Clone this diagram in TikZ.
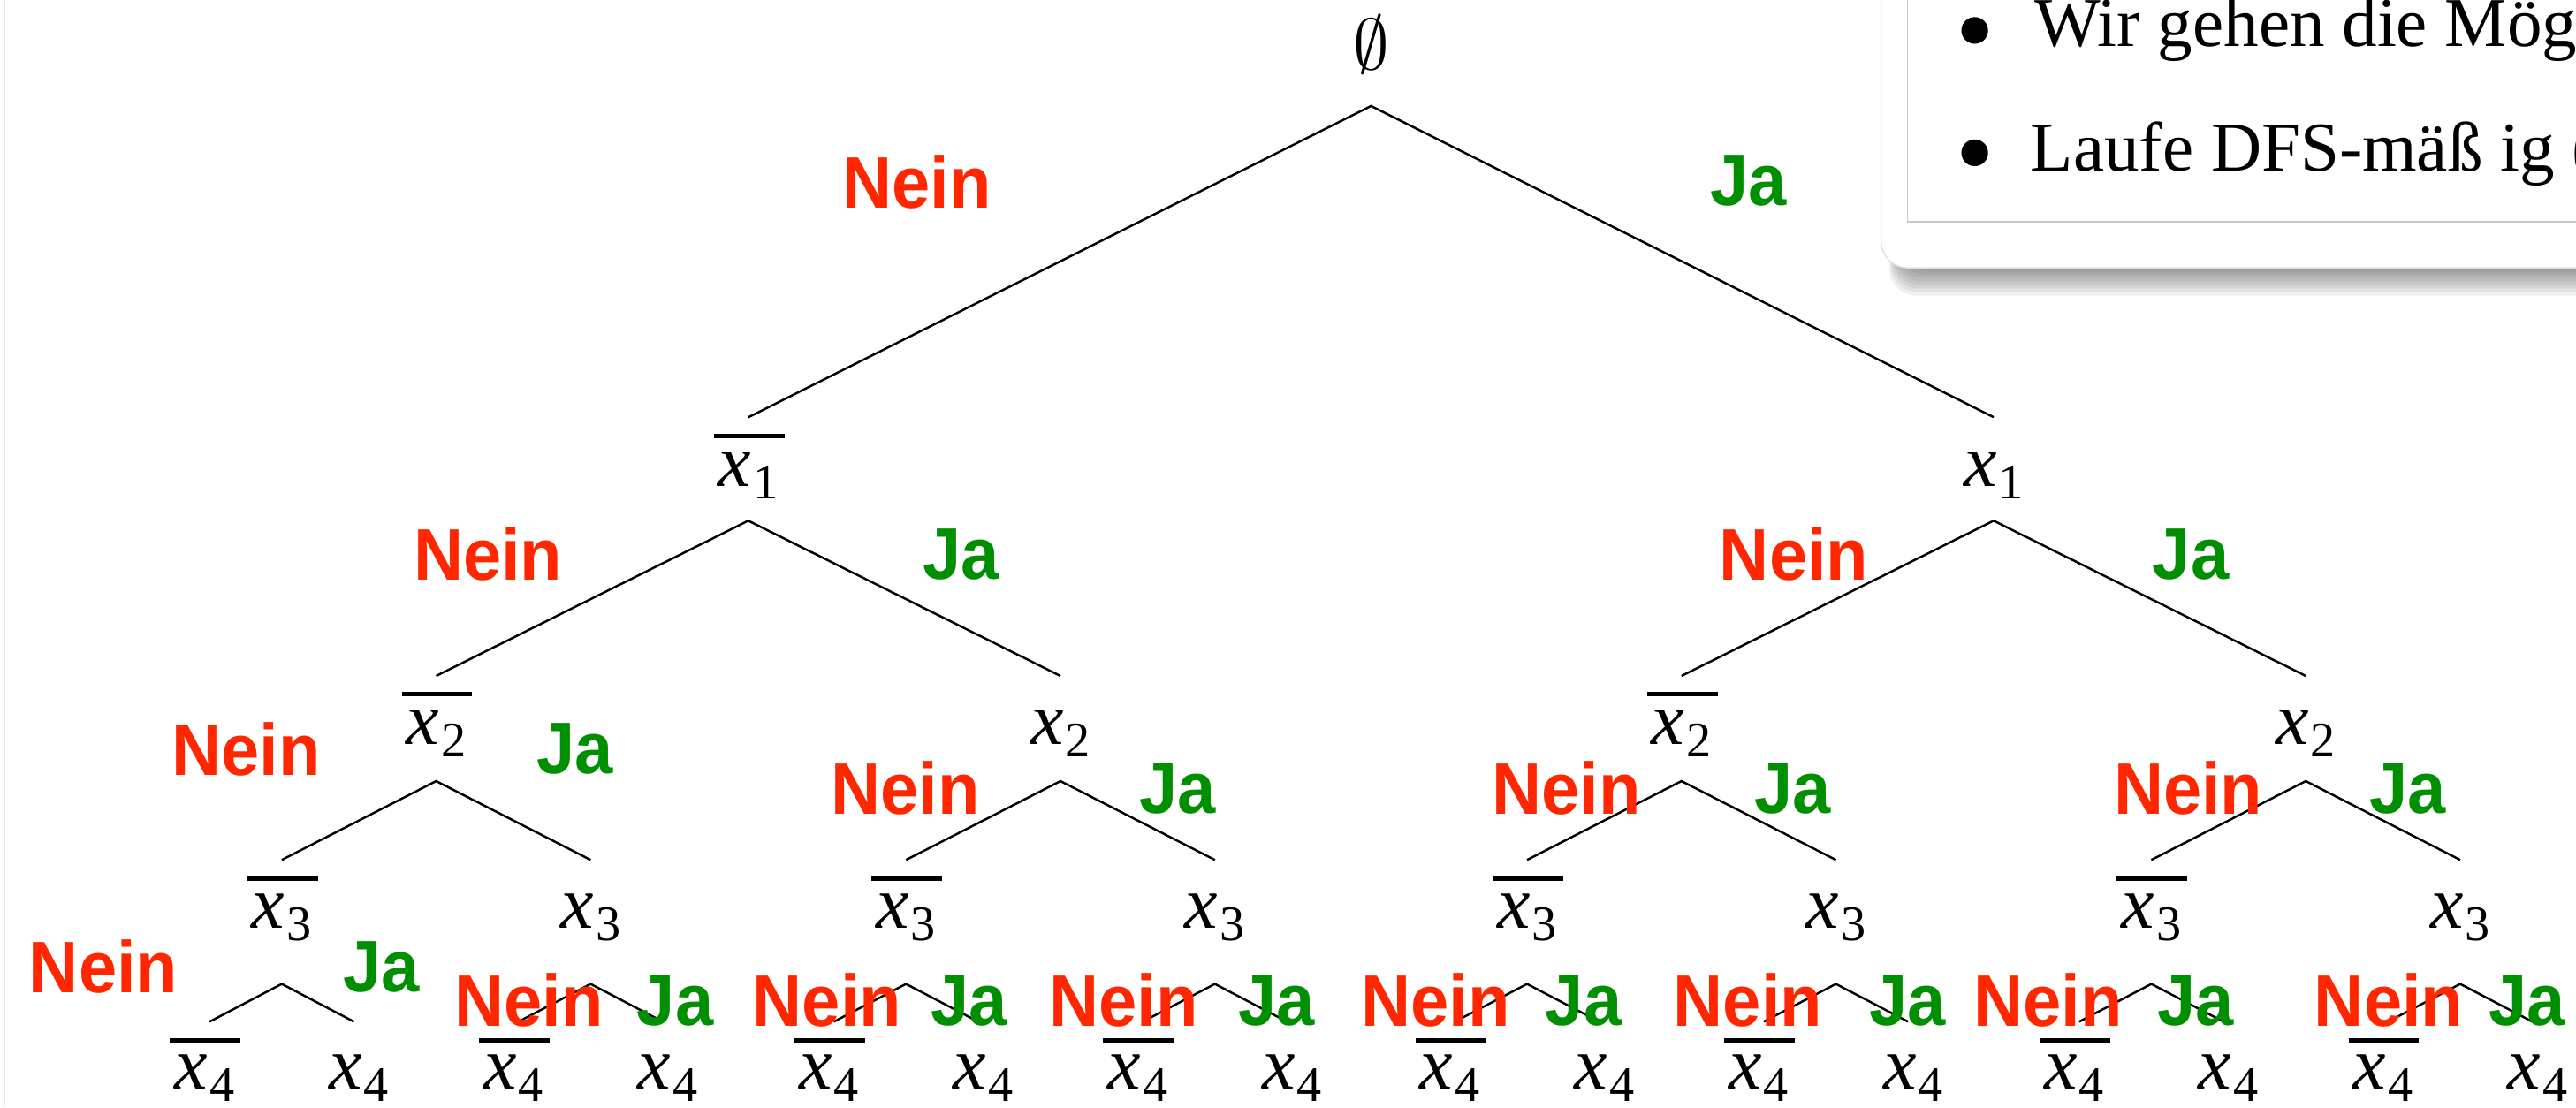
\documentclass[tikz,border=0pt]{standalone}
\usepackage{fontspec}
\setmainfont{Liberation Serif}
\newfontfamily\labfont{Liberation Sans Bold}[FakeStretch=0.94]
\usetikzlibrary{calc}
\definecolor{neinred}{RGB}{255,38,0}
\definecolor{jagreen}{RGB}{0,143,0}
\definecolor{framegray}{RGB}{200,200,200}
\definecolor{boxgray}{RGB}{225,225,225}
\newcommand\xsub[1]{{\fontsize{24}{28}\selectfont\itshape x}\kern0.6pt\raisebox{-4pt}{\fontsize{16}{16}\selectfont #1}}
\begin{document}
\begin{tikzpicture}[x=0.018591cm, y=-0.018591cm,
  lit/.style={inner sep=0pt, anchor=base},
  treeline/.style={line width=0.7pt, black},
  ovl/.style={line width=1.6pt, black},
  nein/.style={text=neinred, inner sep=0pt, font={\labfont\fontsize{23.5}{24}\selectfont}},
  ja/.style={text=jagreen, inner sep=0pt, font={\labfont\fontsize{23.5}{24}\selectfont}},
  boxtext/.style={anchor=base west, inner sep=0pt, font={\fontsize{22.5}{26}\selectfont}}]
\useasboundingbox (0,0) rectangle (1568,674);
\fill[white] (0,0) rectangle (1568,674);
\clip (0,0) rectangle (1568,674);
\draw[gray!18, line width=0.5pt] (2.5,0) -- (2.5,674);

% ---------- info box (top right) ----------
\foreach \k in {0,...,7}
  \fill[black, opacity=0.06, rounded corners=8.5pt] (1150+\k*0.8,-40) rectangle (1640,180-\k*2.2);
\draw[boxgray, fill=white, rounded corners=8.5pt, line width=0.4pt] (1145,-40) rectangle (1640,163);
\draw[framegray, line width=0.5pt] (1161,-40) -- (1161,135) -- (1640,135);
\fill (1202,18.5) circle[radius=4.3pt];
\fill (1202,93) circle[radius=4.3pt];
\node[boxtext] (t1) at (1238,28.5) {Wir gehen die Mög};
\node[boxtext] (t2) at (1235.6,104) {Laufe DFS-mäß ig (};

% ---------- tree nodes ----------
\node[inner sep=0pt] (n) at (834.5,27) {\scalebox{0.93}{\Huge$\emptyset$}};
\node[lit] (n0) at (455.5,296) {\xsub{1}};
\node[lit] (n1) at (1213.5,296) {\xsub{1}};
\foreach \p/\x in {n0/455.5, n1/1213.5} {
  \node[lit] (\p0) at (\x-190,453) {\xsub{2}};
  \node[lit] (\p1) at (\x+190,453) {\xsub{2}};
}
\foreach \p/\x in {n00/265.5, n01/645.5, n10/1023.5, n11/1403.5} {
  \node[lit] (\p0) at (\x-94,565) {\xsub{3}};
  \node[lit] (\p1) at (\x+94,565) {\xsub{3}};
}
\foreach \p/\x in {n000/171.5, n001/359.5, n010/551.5, n011/739.5, n100/929.5, n101/1117.5, n110/1309.5, n111/1497.5} {
  \node[lit] (\p0) at (\x-47,663) {\xsub{4}};
  \node[lit] (\p1) at (\x+47,663) {\xsub{4}};
}

% ---------- overlines (negations) ----------
\foreach \m in {n0, n00, n10, n000, n010, n100, n110}
  \draw[ovl] ($(\m.base)+(-21,-30.5)$) -- ++(43,0);
\foreach \m in {n0000, n0010, n0100, n0110, n1000, n1010, n1100, n1110}
  \draw[ovl] ($(\m.base)+(-21,-29.5)$) -- ++(43,0);

% ---------- connectors ----------
\draw[treeline] ($(n0.base)+(0,-42)$) -- ($(n.center)+(0,37.5)$) -- ($(n1.base)+(0,-42)$);
\foreach \p in {n0, n1}
  \draw[treeline] ($(\p0.base)+(0,-41.5)$) -- ($(\p.base)+(0,21)$) -- ($(\p1.base)+(0,-41.5)$);
\foreach \p in {n00, n01, n10, n11}
  \draw[treeline] ($(\p0.base)+(0,-41.5)$) -- ($(\p.base)+(0,22.5)$) -- ($(\p1.base)+(0,-41.5)$);
\foreach \p in {n000, n001, n010, n011, n100, n101, n110, n111}
  \draw[treeline] ($(\p0.base)+(3,-41)$) -- ($(\p.base)+(0,34)$) -- ($(\p1.base)+(-3,-41)$);

% ---------- labels ----------
\foreach \x/\y [count=\i] in {558/111, 297/337.5, 1092/337.5, 150/456, 551/480, 953.5/480, 1332/480,
   63/588.5, 322/609, 503.5/609, 684/609, 874/609, 1064/609, 1246.5/609, 1454/609}
  \node[nein] (nein\i) at (\x,\y) {Nein};
\foreach \x/\y [count=\i] in {1064.5/110, 585/337.5, 1333.5/337.5, 350/456, 717/480, 1091/480, 1465.5/480,
   232/588.5, 411/609, 590/609, 777/609, 964/609, 1161/609, 1336.5/609, 1538/609}
  \node[ja] (ja\i) at (\x,\y) {Ja};
\end{tikzpicture}
\end{document}
